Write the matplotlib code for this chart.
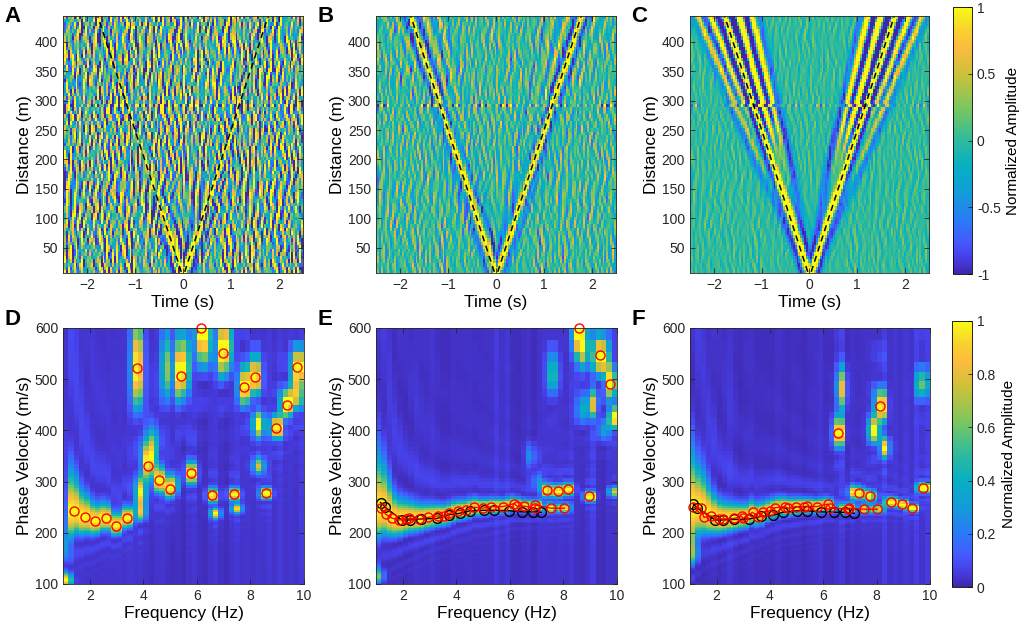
import numpy as np
import matplotlib.pyplot as plt
from matplotlib.colors import LinearSegmentedColormap

plt.rcParams['font.family'] = ['Liberation Sans', 'DejaVu Sans']

# parula-like colour anchors (MATLAB default map)
parula_pos = [0.0, 0.06, 0.12, 0.20, 0.30, 0.40, 0.50, 0.625, 0.75, 0.85, 0.92, 1.0]
parula_rgb = [(0.2422, 0.1504, 0.6603), (0.2780, 0.2470, 0.9040),
              (0.2630, 0.3540, 0.9900), (0.1600, 0.4800, 0.9700),
              (0.0790, 0.6100, 0.8500), (0.0250, 0.6850, 0.7650),
              (0.1800, 0.7300, 0.6200), (0.4900, 0.7800, 0.3650),
              (0.8000, 0.7550, 0.2300), (0.9900, 0.7350, 0.2400),
              (0.9700, 0.8300, 0.1750), (0.9769, 0.9839, 0.0805)]
parula = LinearSegmentedColormap.from_list('parula', list(zip(parula_pos, parula_rgb)), N=256)

# ---------------- top row: cross-correlation gathers ----------------
time_s = np.arange(-2.5, 2.5001, 0.04)
dist_m = np.arange(9, 445, 6)
moveout_vel = 250.0          # dashed reference lines
bad_trace_m = 290            # trace with a bad channel
top_letters = ['A', 'B', 'C']
# coherent arrivals: main one on the dashed line plus dispersive ringing
main_vel = 250
ring_vel = [370, 300, 214, 190]
ring_amp = [0.6, 1.0, 0.55, 0.4]
signal_level = [0.35, 1.4, 2.2]
ring_level = [0.5, 0.45, 1.0]
near_signal_boost = [2.6, 0.0, 0.0]
noise_level = [0.8, 0.3, 0.13]

# incoherent noise wavelets: apparent velocity, frequency, coherence length
noise_vel = [-3000, -900, -400, 400, 900, 3000]
noise_freq = [5.2, 6.3, 7.1, 8.2, 9.0, 10.3, 11.1]
noise_len = [40, 70, 110]

# ---------------- bottom row: dispersion picks ----------------
D_red_f = [1.40, 1.81, 2.21, 2.60, 2.99, 3.38, 3.78, 4.19, 4.59, 4.99, 5.39,
           5.78, 6.17, 6.57, 6.98, 7.37, 7.77, 8.18, 8.57, 8.96, 9.35, 9.75]
D_red_v = [243, 231, 223, 229, 214, 229, 521, 331, 303, 285, 507,
           316, 600, 273, 551, 275, 484, 505, 277, 405, 450, 523]
D_extra_f = [1.1, 1.1, 3.9, 3.9, 4.3, 4.9, 5.1, 5.5, 6.3, 6.7, 7.1,
             7.5, 8.3, 8.3, 9.7]
D_extra_v = [108, 175, 280, 242, 365, 520, 295, 530, 580, 237, 570,
             247, 410, 330, 470]
D_extra_a = [1.0, 0.25, 0.8, 0.7, 0.9, 0.7, 0.8, 0.9, 0.9, 0.7, 0.9,
             0.6, 0.8, 0.6, 0.8]

E_red_f = [1.17, 1.37, 1.58, 1.84, 2.11, 2.25, 2.62, 2.93, 3.30, 3.55, 3.74,
           4.05, 4.36, 4.67, 4.98, 5.29, 5.73, 6.16, 6.26, 6.54, 6.92, 6.95,
           7.53, 8.03]
E_red_v = [249, 236, 229, 225, 227, 228, 227, 230, 233, 232, 238,
           243, 244, 250, 248, 251, 251, 257, 252, 252, 248, 254,
           248, 248]
E_red2_f = [7.38, 7.78, 8.17, 8.57, 8.94, 9.35, 9.75]
E_red2_v = [283, 281, 285, 600, 271, 548, 491]
E_black_f = [1.17, 1.34, 1.96, 2.27, 2.67, 3.27, 3.71, 4.12, 4.52, 5.04, 5.41,
             5.95, 6.45, 6.85, 7.17]
E_black_v = [259, 250, 225, 225, 227, 228, 235, 238, 243, 244, 244,
             243, 241, 241, 240]
E_extra_f = [1.1, 1.1, 1.3, 6.8, 7.0, 7.6, 8.7, 8.7, 9.1, 9.5, 9.5, 9.9, 9.9]
E_extra_v = [115, 240, 265, 350, 300, 510, 560, 440, 450, 540, 400, 425, 280]
E_extra_a = [1.0, 0.35, 0.8, 0.3, 0.3, 0.5, 1.0, 0.5, 0.4, 1.0, 0.5, 1.0, 0.8]

F_red_f = [1.13, 1.40, 1.53, 1.78, 2.10, 2.23, 2.65, 2.94, 2.98, 3.35, 3.56,
           3.75, 4.00, 4.19, 4.56, 4.69, 4.98, 5.28, 5.38, 5.75, 6.16, 6.25,
           6.91, 6.96, 7.53, 8.03]
F_red_v = [250, 248, 230, 233, 227, 227, 228, 232, 228, 240, 230,
           241, 243, 249, 251, 248, 251, 251, 252, 251, 256, 249,
           246, 248, 246, 246]
F_red2_f = [6.56, 7.35, 7.75, 8.13, 8.54, 8.94, 9.34, 9.75]
F_red2_v = [395, 277, 272, 447, 260, 256, 248, 288]
F_black_f = [1.13, 1.28, 1.94, 2.23, 2.65, 3.23, 3.65, 4.10, 4.48, 5.00, 5.38,
             5.90, 6.40, 6.81, 7.16]
F_black_v = [256, 248, 225, 225, 226, 227, 232, 234, 240, 243, 243,
             241, 240, 240, 238]
F_extra_f = [1.1, 1.1, 1.5, 6.7, 7.1, 7.9, 8.3, 9.7]
F_extra_v = [165, 250, 265, 480, 280, 400, 365, 490]
F_extra_a = [1.0, 0.35, 0.8, 0.5, 0.8, 1.0, 0.5, 0.5]


def ricker(tau, f0=3.0):
    a = (np.pi * f0 * tau) ** 2
    return (1 - 2 * a) * np.exp(-a)


def build_signal(t, d, ring, shift=0.0):
    # two-sided gather: main wavelet plus ringing that grows with offset
    tt = np.abs(t)[None, :] - shift
    grow = np.minimum(1.0, d / 300.0)[:, None]
    out = ricker(tt - d[:, None] / main_vel)
    for v, a in zip(ring_vel, ring_amp):
        out = out + ring * a * grow * ricker(tt - d[:, None] / v)
    return out / np.abs(out).max(axis=1, keepdims=True)


def build_noise(t, d):
    out = np.zeros((len(d), len(t)))
    k = 0
    for v in noise_vel:
        for f in noise_freq:
            for lam in noise_len:
                k += 1
                ph1 = 2 * np.pi * ((k * 0.6180339) % 1.0)
                ph2 = 2 * np.pi * ((k * 0.4142136) % 1.0)
                out += (np.cos(2 * np.pi * f * (t[None, :] - d[:, None] / v) + ph1)
                        * np.cos(2 * np.pi * d[:, None] / lam + ph2))
    return out / out.std(axis=1, keepdims=True)


def build_spectrum(fc, s, pf, pv, pa, L=450.0):
    z = np.zeros((len(s), len(fc)))
    for f_k, v_k, a_k in zip(pf, pv, pa):
        wf = np.exp(-0.5 * ((fc - f_k) / 0.14) ** 2)
        z += a_k * wf[None, :] * np.sinc(fc[None, :] * L * (s[:, None] - 1.0 / v_k)) ** 2
    z += 0.03
    return z / z.max(axis=0, keepdims=True)


fig = plt.figure(figsize=(10.24, 6.34), dpi=100)

top_pos = [[0.0615, 0.5694, 0.2344, 0.4054], [0.3672, 0.5694, 0.2344, 0.4054],
           [0.6738, 0.5694, 0.2334, 0.4054]]
bot_pos = [[0.0615, 0.0789, 0.2354, 0.4038], [0.3672, 0.0789, 0.2354, 0.4038],
           [0.6738, 0.0789, 0.2344, 0.4038]]


def style_axes(ax):
    ax.tick_params(direction='in', length=3.5, width=0.6, top=True, right=True,
                   labelsize=10, colors='#262626')
    for sp in ax.spines.values():
        sp.set_linewidth(0.6)
        sp.set_color('#262626')


noise = build_noise(time_s, dist_m)
bad_row = np.argmin(np.abs(dist_m - bad_trace_m))
dt = time_s[1] - time_s[0]
dd = dist_m[1] - dist_m[0]
extent = [time_s[0] - dt / 2, time_s[-1] + dt / 2, dist_m[0] - dd / 2, dist_m[-1] + dd / 2]

for i in range(3):
    ax = fig.add_axes(top_pos[i])
    sig = build_signal(time_s, dist_m, ring_level[i])
    sig_bad = build_signal(time_s, dist_m, ring_level[i], shift=0.06)
    amp = signal_level[i] + near_signal_boost[i] * np.exp(-dist_m / 90.0)
    field = amp[:, None] * sig + noise_level[i] * noise
    field[bad_row] = amp[bad_row] * sig_bad[bad_row] + 2.5 * noise_level[i] * noise[bad_row]
    field = np.clip(field, -1, 1)
    im_top = ax.imshow(field, extent=extent, origin='lower', aspect='auto',
                       cmap=parula, vmin=-1, vmax=1, interpolation='nearest')
    d_line = np.array([dist_m[0], 444])
    ax.plot(-d_line / moveout_vel, d_line, 'k--', lw=1.1, dashes=(4, 3))
    ax.plot(d_line / moveout_vel, d_line, 'k--', lw=1.1, dashes=(4, 3))
    ax.set_xlim(-2.5, 2.5)
    ax.set_ylim(7, 444)
    ax.set_xticks([-2, -1, 0, 1, 2])
    ax.set_yticks(np.arange(50, 401, 50))
    ax.set_xlabel('Time (s)', fontsize=12.5, labelpad=2)
    ax.set_ylabel('Distance (m)', fontsize=12.5, labelpad=2)
    style_axes(ax)
    fig.text(top_pos[i][0] - 0.057, 0.99, top_letters[i], fontsize=16,
             fontweight='bold', va='top', ha='left')

cax = fig.add_axes([0.9307, 0.5678, 0.0186, 0.4211])
cb = fig.colorbar(im_top, cax=cax, ticks=[-1, -0.5, 0, 0.5, 1])
cb.ax.set_yticklabels(['-1', '-0.5', '0', '0.5', '1'])
cb.set_label('Normalized Amplitude', fontsize=11)
cb.ax.tick_params(direction='in', length=3, width=0.6, labelsize=10, colors='#262626')
cb.outline.set_linewidth(0.6)

# dispersion images
f_edges = np.arange(1.0, 10.001, 0.2)
f_cent = 0.5 * (f_edges[1:] + f_edges[:-1])
s_edges = np.linspace(1 / 600, 1 / 100, 121)
s_cent = 0.5 * (s_edges[1:] + s_edges[:-1])
v_edges = 1.0 / s_edges

panels = [
    ('D', D_red_f, D_red_v, [], [], None, None, D_extra_f, D_extra_v, D_extra_a),
    ('E', E_red_f, E_red_v, E_red2_f, E_red2_v, E_black_f, E_black_v,
     E_extra_f, E_extra_v, E_extra_a),
    ('F', F_red_f, F_red_v, F_red2_f, F_red2_v, F_black_f, F_black_v,
     F_extra_f, F_extra_v, F_extra_a),
]

for i, (lab, rf, rv, r2f, r2v, bf, bv, xf, xv, xa) in enumerate(panels):
    ax = fig.add_axes(bot_pos[i])
    pf = list(rf) + list(r2f) + list(xf)
    pv = list(rv) + list(r2v) + list(xv)
    pa = [1.0] * (len(rf) + len(r2f)) + list(xa)
    z = build_spectrum(f_cent, s_cent, pf, pv, pa)
    im_bot = ax.pcolormesh(f_edges, v_edges[::-1], z[::-1], cmap=parula,
                           vmin=0, vmax=1, shading='flat', antialiased=False,
                           rasterized=True)
    if bf is not None:
        ax.plot(bf, bv, '-', color='k', lw=1.0)
        ax.plot(bf, bv, 'o', mfc='none', mec='k', ms=7, mew=1.0)
        order = np.argsort(rf)
        ax.plot(np.array(rf)[order], np.array(rv)[order], '-', color='r', lw=1.0)
    ax.plot(list(rf) + list(r2f), list(rv) + list(r2v), 'o', mfc='none',
            mec='r', ms=6.5, mew=1.0, clip_on=False)
    ax.set_xlim(1, 10)
    ax.set_ylim(100, 600)
    ax.set_xticks([2, 4, 6, 8, 10])
    ax.set_yticks(np.arange(100, 601, 100))
    ax.set_xlabel('Frequency (Hz)', fontsize=12.5, labelpad=2)
    ax.set_ylabel('Phase Velocity (m/s)', fontsize=12.5, labelpad=2)
    style_axes(ax)
    fig.text(bot_pos[i][0] - 0.057, 0.512, lab, fontsize=16,
             fontweight='bold', va='top', ha='left')

cax2 = fig.add_axes([0.9297, 0.0741, 0.0195, 0.4196])
cb2 = fig.colorbar(im_bot, cax=cax2, ticks=np.arange(0, 1.01, 0.2))
cb2.ax.set_yticklabels(['0', '0.2', '0.4', '0.6', '0.8', '1'])
cb2.set_label('Normalized Amplitude', fontsize=11)
cb2.ax.tick_params(direction='in', length=3, width=0.6, labelsize=10, colors='#262626')
cb2.outline.set_linewidth(0.6)

fig.savefig('out.png', dpi=100)
